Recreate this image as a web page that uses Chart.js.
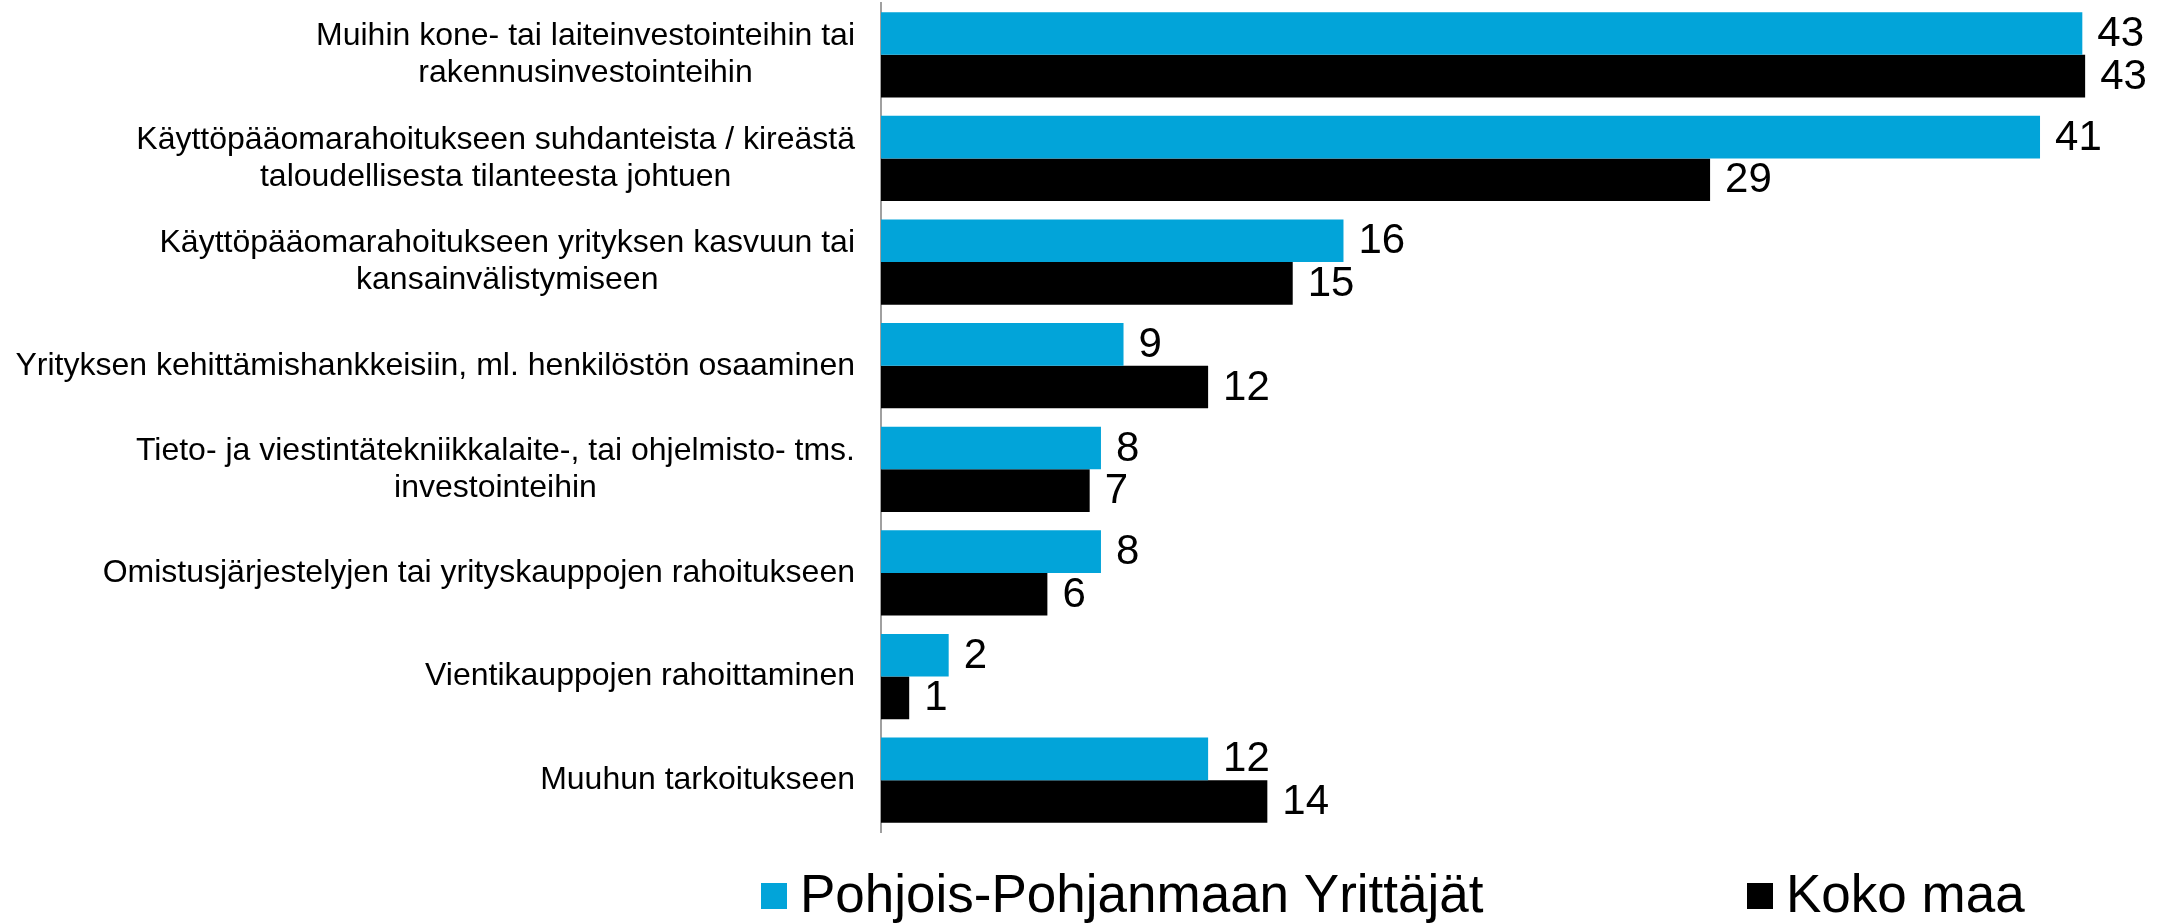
<!DOCTYPE html>
<html lang="fi">
<head>
    <meta charset="UTF-8">
    <title>Rahoituksen käyttötarkoitus</title>
    <script src="https://cdn.jsdelivr.net/npm/chart.js"></script>
    <style>
        body { margin: 0; background: #fff; }
    </style>
</head>
<body>

    <canvas id="chart" width="2162" height="923"></canvas>

    <script>
        // categories (each entry = lines of the label)
        const categories = [
            ["Muihin kone- tai laiteinvestointeihin tai", "rakennusinvestointeihin"],
            ["Käyttöpääomarahoitukseen suhdanteista / kireästä", "taloudellisesta tilanteesta johtuen"],
            ["Käyttöpääomarahoitukseen yrityksen kasvuun tai", "kansainvälistymiseen"],
            ["Yrityksen kehittämishankkeisiin, ml. henkilöstön osaaminen"],
            ["Tieto- ja viestintätekniikkalaite-, tai ohjelmisto- tms.", "investointeihin"],
            ["Omistusjärjestelyjen tai yrityskauppojen rahoitukseen"],
            ["Vientikauppojen rahoittaminen"],
            ["Muuhun tarkoitukseen"]
        ];

        const seriesNames = ["Pohjois-Pohjanmaan Yrittäjät", "Koko maa"];

        // values (labels show them rounded)
        const pohjoisPohjanmaa = [42.6, 41.1, 16.4, 8.6, 7.8, 7.8, 2.4, 11.6];
        const kokoMaa          = [42.7, 29.4, 14.6, 11.6, 7.4, 5.9, 1.0, 13.7];

        const colors = ["#02A4D9", "#000000"];
        const FONT = '"Liberation Sans", Arial, sans-serif';

        // category labels: block right-aligned, lines centred inside the block
        const categoryLabels = {
            id: "categoryLabels",
            afterDraw(chart) {
                const ctx = chart.ctx;
                const yScale = chart.scales.y;
                const right = 855;
                const lineH = 37;
                ctx.save();
                ctx.font = "32px " + FONT;
                ctx.fillStyle = "#000";
                ctx.textAlign = "center";
                ctx.textBaseline = "middle";
                categories.forEach((lines, i) => {
                    const widest = Math.max(...lines.map(l => ctx.measureText(l).width));
                    const cx = right - widest / 2;
                    const cy = yScale.getPixelForValue(i);
                    const y0 = cy - (lines.length - 1) * lineH / 2;
                    lines.forEach((l, j) => ctx.fillText(l, cx, y0 + j * lineH));
                });
                ctx.restore();
            }
        };

        // value labels at the end of each bar
        const valueLabels = {
            id: "valueLabels",
            afterDatasetsDraw(chart) {
                const ctx = chart.ctx;
                ctx.save();
                ctx.font = "42px " + FONT;
                ctx.fillStyle = "#000";
                ctx.textAlign = "left";
                ctx.textBaseline = "middle";
                chart.data.datasets.forEach((ds, di) => {
                    chart.getDatasetMeta(di).data.forEach((bar, i) => {
                        ctx.fillText(String(Math.round(ds.data[i])), bar.x + 15, bar.y + 1);
                    });
                });
                ctx.restore();
            }
        };

        // legend under the plot
        const bottomLegend = {
            id: "bottomLegend",
            afterDraw(chart) {
                const ctx = chart.ctx;
                const items = [{ box: 761, text: 800 }, { box: 1747, text: 1786 }];
                ctx.save();
                ctx.font = "53px " + FONT;
                ctx.textAlign = "left";
                ctx.textBaseline = "middle";
                items.forEach((it, i) => {
                    ctx.fillStyle = colors[i];
                    ctx.fillRect(it.box, 883, 26, 26);
                    ctx.fillStyle = "#000";
                    ctx.fillText(seriesNames[i], it.text, 897);
                });
                ctx.restore();
            }
        };

        const ctx = document.getElementById("chart").getContext("2d");

        new Chart(ctx, {
            type: "bar",
            data: {
                labels: categories.map(c => c.join(" ")),
                datasets: [
                    {
                        label: seriesNames[0],
                        data: pohjoisPohjanmaa,
                        backgroundColor: colors[0],
                        barPercentage: 1,
                        categoryPercentage: 0.823
                    },
                    {
                        label: seriesNames[1],
                        data: kokoMaa,
                        backgroundColor: colors[1],
                        barPercentage: 1,
                        categoryPercentage: 0.823
                    }
                ]
            },
            options: {
                indexAxis: "y",
                responsive: false,
                animation: false,
                layout: { padding: { top: 3, right: 12, bottom: 91, left: 0 } },
                plugins: {
                    legend: { display: false },
                    tooltip: { enabled: false }
                },
                scales: {
                    x: { display: false, min: 0, max: 45 },
                    y: {
                        grid: { display: false, drawTicks: false },
                        border: { display: true, color: "#a0a0a0", width: 2 },
                        ticks: { display: false },
                        afterFit: scale => { scale.width = 881; }
                    }
                }
            },
            plugins: [categoryLabels, valueLabels, bottomLegend]
        });
    </script>

</body>
</html>
